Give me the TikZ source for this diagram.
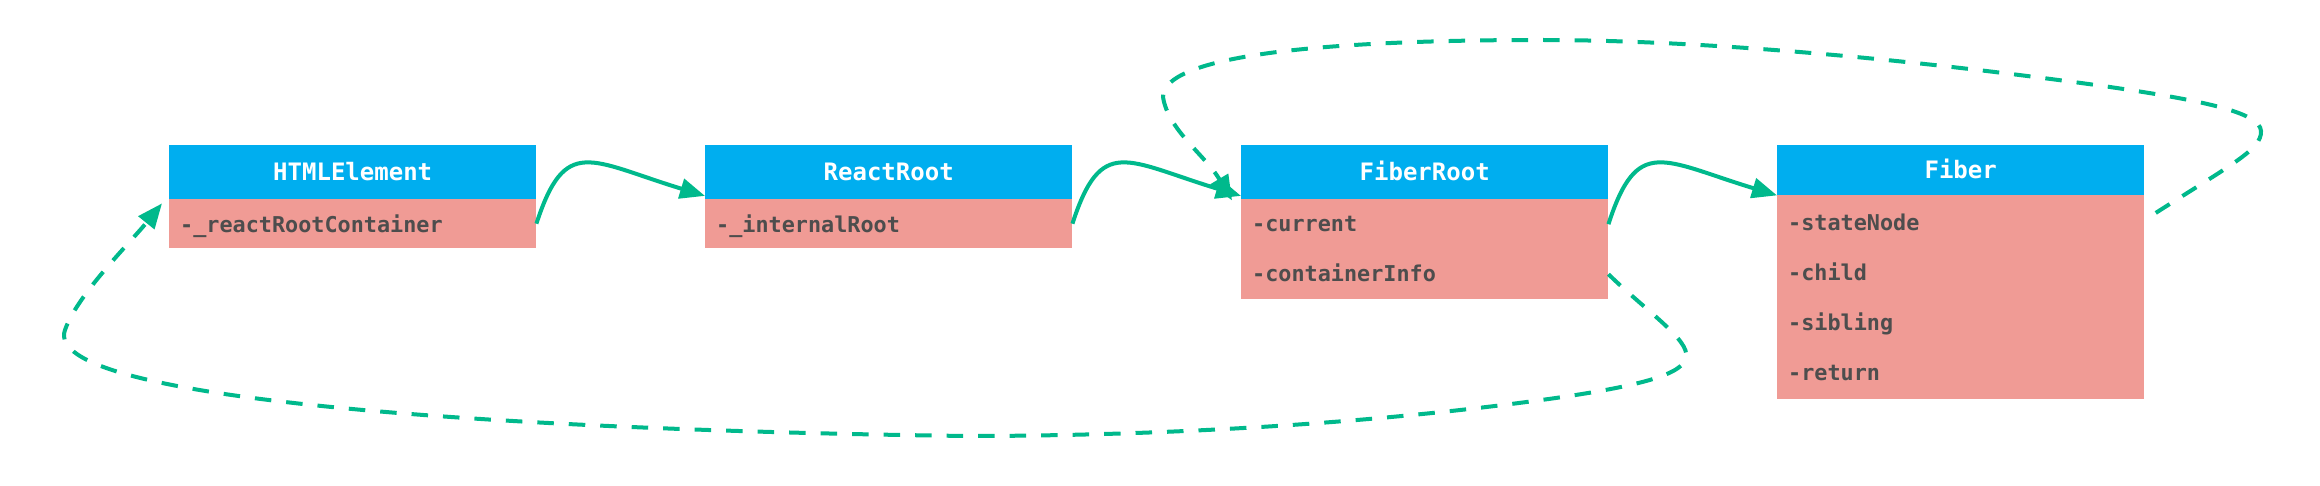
\documentclass[tikz,border=0pt]{standalone}
\usepackage{fontspec}
\newfontfamily\djmono{DejaVu Sans Mono}
\usetikzlibrary{arrows.meta,calc}
\definecolor{hdrblue}{RGB}{0,174,239}
\definecolor{bodysal}{RGB}{240,155,149}
\definecolor{txtgray}{RGB}{77,77,77}
\definecolor{conngreen}{RGB}{0,185,140}
\begin{document}
\begin{tikzpicture}[x=1pt,y=-1pt,
  hdr/.style={fill=hdrblue, anchor=north west, minimum width=367pt, inner sep=0pt, text=white,
    font=\djmono\bfseries\fontsize{24}{24}\selectfont, text height=17.5pt, text depth=0pt},
  bodybox/.style={fill=bodysal, anchor=north west, minimum width=367pt, inner sep=0pt},
  rowtxt/.style={anchor=north west, minimum width=367pt, inner xsep=11pt, inner ysep=0pt,
    text width=345pt, align=left, text=txtgray, text depth=0pt,
    font=\djmono\bfseries\fontsize{21.8}{21.8}\selectfont},
  solidconn/.style={draw=conngreen, line width=4pt, -{Triangle[length=25pt,width=20pt]}},
  dashconn/.style={solidconn, dash pattern=on 16.5pt off 15pt}
]
\useasboundingbox[fill=white] (0,0) rectangle (2320,486);

% HTMLElement
\node[hdr, minimum height=54pt] (hh) at (169,145) {HTMLElement};
\node[bodybox, minimum height=49pt] (hb) at (169,199) {};
\node[rowtxt, minimum height=49pt, text height=17pt] (h1) at (169,199) {-\_reactRootContainer};

% ReactRoot
\node[hdr, minimum height=54pt] (rh) at (705,145) {ReactRoot};
\node[bodybox, minimum height=49pt] (rb) at (705,199) {};
\node[rowtxt, minimum height=49pt, text height=17pt] (r1) at (705,199) {-\_internalRoot};

% FiberRoot
\node[hdr, minimum height=54pt] (frh) at (1241,145) {FiberRoot};
\node[bodybox, minimum height=99.5pt] (frb) at (1241,199) {};
\node[rowtxt, minimum height=50pt, text height=14pt] (fr1) at (1241,199) {-current};
\node[rowtxt, minimum height=50pt, text height=14pt] (fr2) at (1241,249) {-containerInfo};

% Fiber
\node[hdr, minimum height=50pt] (fh) at (1777,145) {Fiber};
\node[bodybox, minimum height=203.5pt] (fb) at (1777,195) {};
\node[rowtxt, minimum height=50pt, text height=21.4pt] (f1) at (1777,195) {-stateNode};
\node[rowtxt, minimum height=50pt, text height=21.4pt] (f2) at (1777,245) {-child};
\node[rowtxt, minimum height=50pt, text height=21.4pt] (f3) at (1777,295) {-sibling};
\node[rowtxt, minimum height=50pt, text height=21.4pt] (f4) at (1777,345) {-return};

% solid connectors
\draw[solidconn] (h1.east) .. controls +(29,-89) and +(-115,-35) .. ($(rh.south west)+(0,-3.5)$);
\draw[solidconn] (r1.east) .. controls +(29,-89) and +(-115,-35) .. ($(frh.south west)+(0,-3.5)$);
\draw[solidconn] (fr1.east) .. controls +(29,-89) and +(-115,-35) .. (fh.south west);

% dashed: Fiber.stateNode -> FiberRoot
\draw[dashconn, dash phase=18pt] (f1.east)
  .. controls (2230,165) and (2262,150) .. (2261,131)
  .. controls (2260,112) and (2200,100) .. (2103,86)
  .. controls (1900,58) and (1700,40) .. (1540,40)
  .. controls (1350,40) and (1163,52) .. (1163,97)
  .. controls (1168,130) and (1205,155) .. ($(frh.south west)+(-9,1)$);

% dashed: FiberRoot.containerInfo -> HTMLElement
\draw[dashconn] (fr2.east)
  .. controls (1645,310) and (1690,340) .. (1686,357)
  .. controls (1683,375) and (1640,388) .. (1503,405)
  .. controls (1300,430) and (1100,436) .. (967,436)
  .. controls (500,430) and (40,400) .. (65,330)
  .. controls (77,295) and (130,243) .. ($(hh.south west)+(-7,4)$);
\end{tikzpicture}
\end{document}
